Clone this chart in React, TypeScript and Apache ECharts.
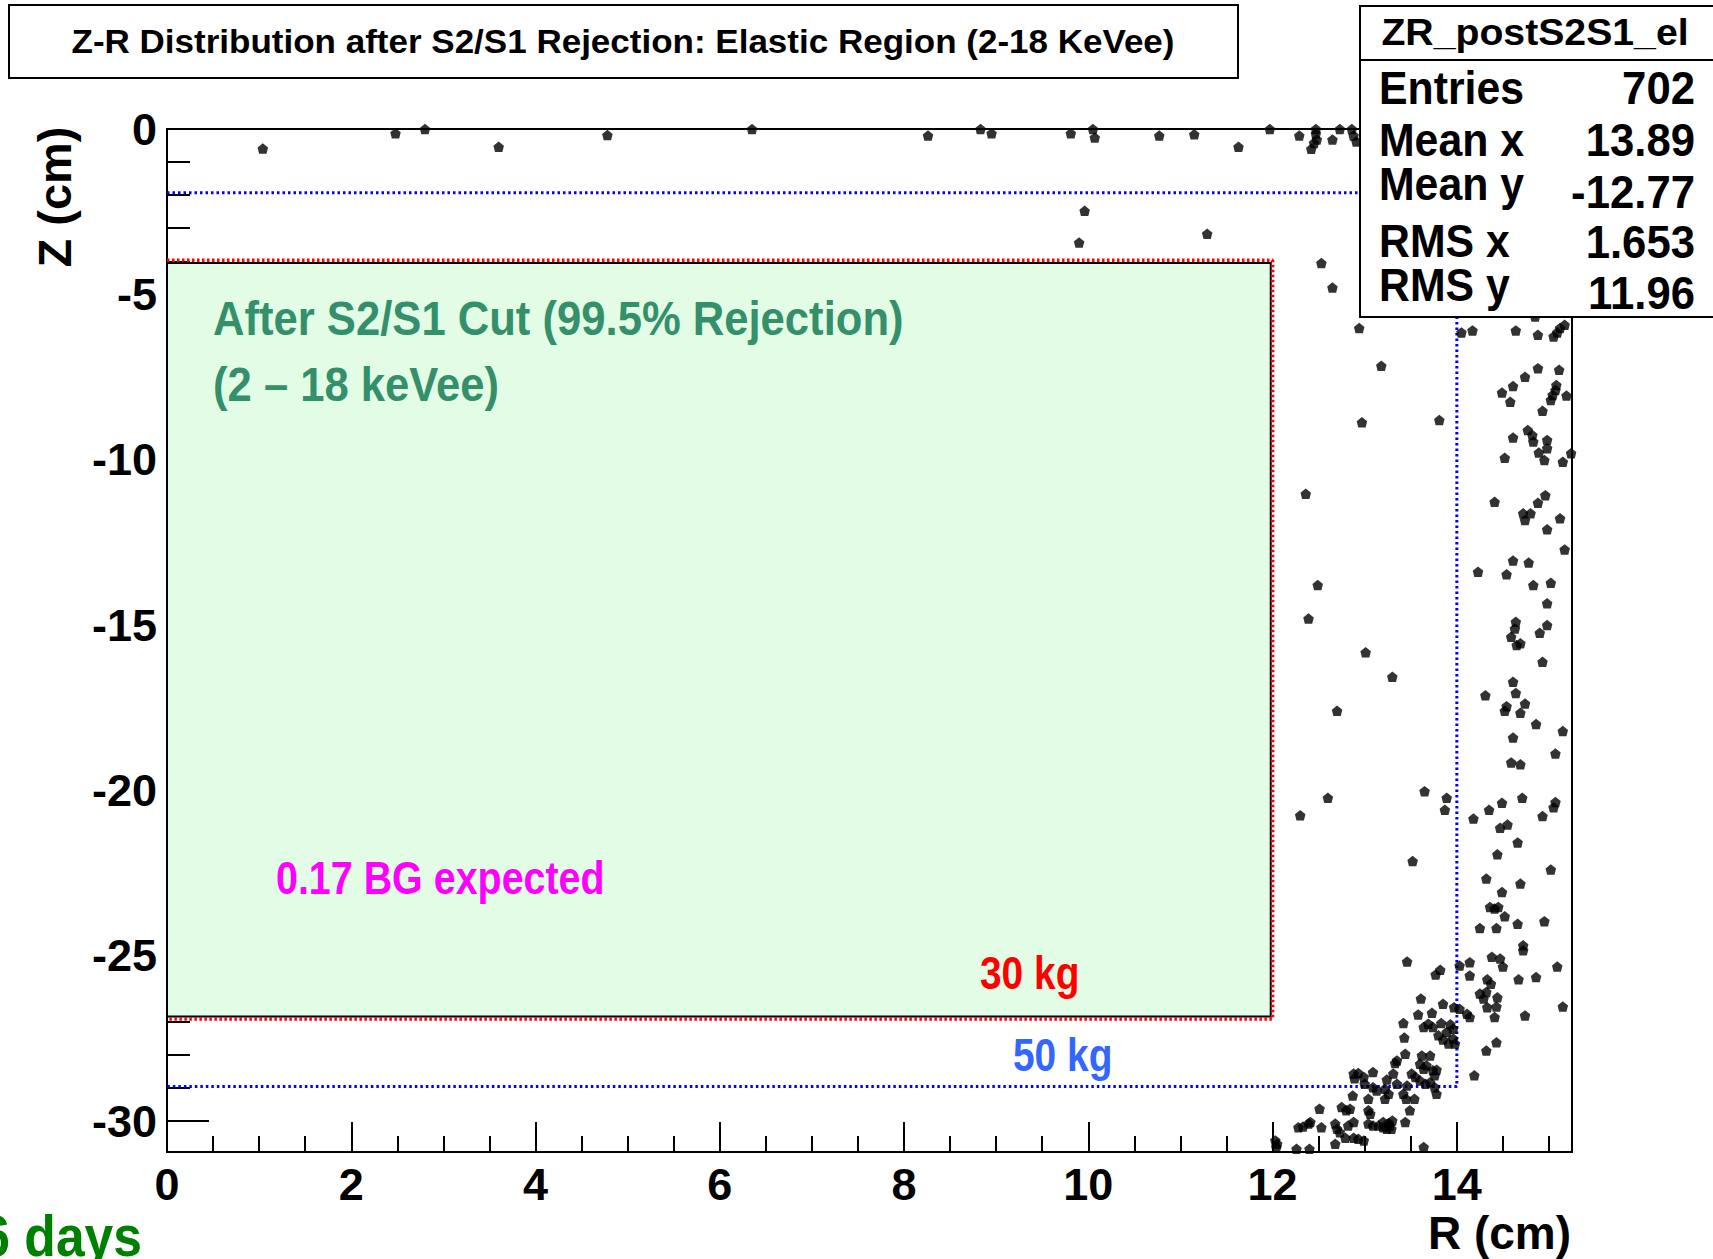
import { useEffect, useRef } from "react";
import * as echarts from "echarts";

// ---------- data ----------
const R_RANGE = [0, 15.25];
const Z_RANGE = [-30.93, 0];

const xMajorTicks = [0, 2, 4, 6, 8, 10, 12, 14];
const xMinorTicks = [0.5, 1, 1.5, 2.5, 3, 3.5, 4.5, 5, 5.5, 6.5, 7, 7.5, 8.5, 9, 9.5, 10.5, 11, 11.5, 12.5, 13, 13.5, 14.5, 15];
const yMajorTicks = [0, -5, -10, -15, -20, -25, -30];
const yMinorTicks = [-1, -2, -3, -4, -6, -7, -8, -9, -11, -12, -13, -14, -16, -17, -18, -19, -21, -22, -23, -24, -26, -27, -28, -29];

// fiducial volumes [rMax, zTop, zBottom]
const cut30kg = [12.0, -3.97, -26.91];
const cut50kg = [14.0, -1.93, -28.95];
const greenRegion = [0, -4.05, 11.98, -26.83];

// events near the top (gas/liquid surface)
const topEvents = [
  [1.04, -0.59], [2.48, -0.13], [2.8, 0], [3.6, -0.54], [4.78, -0.18], [6.35, 0], [8.26, -0.2], [8.83, 0],
  [8.95, -0.13], [9.81, -0.13], [10.05, 0], [10.07, -0.26], [10.77, -0.2], [11.15, -0.16], [11.63, -0.54],
  [11.97, 0], [12.29, -0.2], [12.47, 0], [12.47, -0.14], [12.48, -0.32], [12.45, -0.42], [12.42, -0.6],
  [12.65, -0.32], [12.73, 0], [12.86, 0], [12.88, -0.2], [12.91, -0.38], [9.96, -2.47], [9.9, -3.43], [11.29, -3.17],
];

// events along the side wall
const wallEvents = [
  [12.53, -4.05], [12.65, -4.79], [12.94, -6.02], [13.18, -7.16], [12.97, -8.87], [12.36, -11.03],
  [14.85, -5.67], [14.05, -6.15], [14.17, -6.09], [14.64, -6.09], [14.88, -6.22], [15.05, -6.27], [15.09, -6.15],
  [15.12, -6.02], [15.17, -5.92], [14.88, -7.23], [15.11, -7.28], [14.74, -7.49], [14.61, -7.77], [14.49, -7.97],
  [14.58, -8.25], [15.08, -7.74], [15.07, -7.89], [15.04, -8.04], [15.02, -8.19], [15.19, -8.06], [14.93, -8.52],
  [13.81, -8.8], [14.77, -9.1], [14.82, -9.25], [14.83, -9.45], [14.61, -9.33], [14.98, -9.4], [14.98, -9.65],
  [14.89, -9.78], [14.95, -10.01], [14.52, -9.94], [15.15, -10.06], [15.24, -9.8], [14.41, -11.27], [14.88, -11.3],
  [14.96, -11.07], [14.72, -11.62], [14.8, -11.62], [14.74, -11.82], [15.12, -11.77], [14.98, -12.1], [15.17, -12.71],
  [14.61, -13.05], [14.78, -13.11], [14.23, -13.39], [14.54, -13.46], [14.83, -13.79], [15.02, -13.72], [12.49, -13.79],
  [14.98, -14.34], [12.39, -14.8], [14.64, -14.9], [14.63, -15.1], [14.59, -15.35], [14.65, -15.6], [14.69, -15.55],
  [14.98, -15.0], [14.9, -15.23], [14.93, -16.11], [13.01, -15.82], [13.3, -16.56], [14.61, -16.71], [14.64, -17.05],
  [14.31, -17.12], [14.74, -17.37], [14.54, -17.45], [14.52, -17.59], [14.69, -17.65], [12.7, -17.59], [14.86, -17.99],
  [15.15, -18.2], [14.61, -18.4], [15.07, -18.88], [14.59, -19.15], [14.69, -19.21], [13.65, -20.02], [12.6, -20.22],
  [12.3, -20.75], [13.89, -20.22], [13.87, -20.58], [14.18, -20.85], [14.35, -20.58], [14.49, -20.37], [14.71, -20.22],
  [15.07, -20.35], [15.05, -20.51], [14.93, -20.77], [14.47, -21.13], [14.55, -21.03], [14.66, -21.57], [14.44, -21.93],
  [13.52, -22.13], [15.02, -22.39], [14.32, -22.66], [14.69, -22.81], [14.49, -23.07],
];

// events near the bottom (cathode)
const bottomEvents = [
  [14.36, -23.52], [14.45, -23.52], [14.41, -23.57], [14.52, -23.8], [14.25, -24.16], [14.43, -24.16], [14.66, -24.03],
  [14.95, -23.95], [14.72, -24.68], [14.72, -24.83], [13.46, -25.17], [14.03, -25.29], [14.14, -25.19], [14.38, -25.03],
  [14.47, -25.08], [14.5, -25.32], [15.09, -25.32], [13.82, -25.42], [13.77, -25.56], [14.14, -25.59], [14.67, -25.71],
  [14.86, -25.64], [14.33, -25.71], [14.37, -25.84], [14.25, -26.14], [14.32, -26.09], [14.29, -26.29], [14.44, -26.25],
  [14.33, -26.55], [14.43, -26.53], [13.61, -26.29], [13.85, -26.45], [13.97, -26.55], [15.15, -26.53], [14.74, -26.8],
  [13.58, -26.77], [13.73, -26.72], [14.03, -26.6], [14.11, -26.75], [14.14, -26.85], [14.41, -26.85], [13.42, -27.03],
  [13.64, -27.15], [13.69, -27.05], [13.74, -27.15], [13.83, -27.03], [13.93, -27.07], [13.96, -27.2], [13.89, -27.3],
  [13.96, -27.5], [13.8, -27.4], [13.85, -27.53], [13.91, -27.65], [13.98, -27.65], [13.43, -27.47], [14.43, -27.61],
  [14.32, -27.86], [13.44, -27.96], [13.35, -28.16], [13.33, -28.24], [13.62, -28.01], [13.71, -28.01], [13.6, -28.26],
  [13.64, -28.41], [13.67, -28.31], [13.74, -28.46], [13.78, -28.44], [13.76, -28.61], [14.19, -28.61], [13.51, -28.56],
  [13.55, -28.66], [13.6, -28.77], [13.66, -28.87], [13.71, -28.82], [13.76, -28.97], [12.88, -28.56], [12.93, -28.54],
  [12.99, -28.66], [13.09, -28.51], [12.89, -28.7], [13.24, -28.74], [13.31, -28.56], [13.0, -28.87], [13.09, -28.97],
  [13.13, -29.07], [13.22, -29.02], [13.35, -28.87], [13.46, -28.92], [13.78, -29.17], [12.87, -29.22], [13.04, -29.32],
  [13.22, -29.32], [13.26, -29.17], [13.42, -29.17], [13.45, -29.32], [13.54, -29.32], [12.51, -29.62], [12.75, -29.57],
  [12.8, -29.67], [12.84, -29.62], [13.04, -29.67], [13.06, -29.77], [13.49, -29.67], [12.28, -30.18], [12.33, -30.16],
  [12.39, -30.07], [12.41, -30.02], [12.53, -30.18], [12.68, -30.07], [12.7, -30.23], [12.73, -30.33], [12.82, -30.13],
  [12.88, -30.02], [13.04, -30.07], [13.09, -30.13], [13.15, -30.13], [13.2, -30.18], [13.24, -30.23], [13.27, -30.13],
  [13.29, -30.23], [13.2, -30.02], [13.26, -30.05], [13.3, -29.98], [13.44, -30.02], [12.68, -30.68], [12.79, -30.5],
  [12.88, -30.5], [12.93, -30.53], [12.99, -30.58], [12.26, -30.83], [12.4, -30.83], [12.03, -30.58], [12.04, -30.78],
  [12.05, -30.68], [13.64, -30.78],
];

const statsTitle = "ZR_postS2S1_el";
const statsLabels = ["Entries", "Mean x", "Mean y", "RMS x", "RMS y"];
const statsValues = ["702", "13.89", "-12.77", "1.653", "11.96"];

// ---------- helpers ----------
const FONT = '"Liberation Sans", Arial, Helvetica, sans-serif';

function txt(text: string, x: number, y: number, size: number, opts: any = {}) {
  return {
    type: "text",
    x,
    y,
    scaleX: opts.scaleX ?? 1,
    rotation: opts.rotation ?? 0,
    z: 100,
    style: {
      text,
      fontSize: size,
      fontWeight: "bold",
      fontFamily: FONT,
      fill: opts.color ?? "#000",
      align: opts.align ?? "left",
      verticalAlign: "middle",
    },
  };
}

function boxPath(c: number[]) {
  return [
    [0, c[1]],
    [c[0], c[1]],
    [c[0], c[2]],
    [0, c[2]],
  ];
}

const GRID = { left: 167, top: 129, width: 1405, height: 1023 };

export default function App() {
  const ref = useRef<HTMLDivElement>(null);

  useEffect(() => {
    if (!ref.current) return;
    const chart = echarts.init(ref.current, null, { renderer: "svg" });

    const tickStyle = { color: "#000", width: 2 };
    const labelStyle = {
      fontSize: 45,
      fontWeight: "bold",
      fontFamily: FONT,
      color: "#000",
    };

    const statsGraphics: any[] = [];
    const statsY = [
      [88, 88],
      [140, 140],
      [184, 192],
      [241, 242],
      [284.6, 293.3],
    ];
    statsLabels.forEach((l, i) => {
      statsGraphics.push(txt(l, 1379, statsY[i][0], 47, { scaleX: 0.91 }));
      statsGraphics.push(txt(statsValues[i], 1695, statsY[i][1], 47, { scaleX: 0.93, align: "right" }));
    });

    chart.setOption({
      animation: false,
      backgroundColor: "#fff",
      grid: [
        { ...GRID, show: true, borderColor: "#000", borderWidth: 2, backgroundColor: "transparent" },
        { ...GRID, show: false },
      ],
      xAxis: [
        {
          type: "value",
          gridIndex: 0,
          min: R_RANGE[0],
          max: R_RANGE[1],
          position: "bottom",
          splitLine: { show: false },
          axisLine: { show: true, onZero: false, lineStyle: tickStyle },
          axisTick: { show: true, inside: true, length: 30, lineStyle: tickStyle, customValues: xMajorTicks },
          axisLabel: { ...labelStyle, customValues: xMajorTicks, margin: 10 },
        },
        {
          type: "value",
          gridIndex: 1,
          min: R_RANGE[0],
          max: R_RANGE[1],
          position: "bottom",
          splitLine: { show: false },
          axisLine: { show: false, onZero: false },
          axisTick: { show: true, inside: true, length: 16, lineStyle: tickStyle, customValues: xMinorTicks },
          axisLabel: { show: false },
        },
      ],
      yAxis: [
        {
          type: "value",
          gridIndex: 0,
          min: Z_RANGE[0],
          max: Z_RANGE[1],
          position: "left",
          splitLine: { show: false },
          axisLine: { show: true, onZero: false, lineStyle: tickStyle },
          axisTick: { show: true, inside: true, length: 42, lineStyle: tickStyle, customValues: yMajorTicks },
          axisLabel: { ...labelStyle, customValues: yMajorTicks, margin: 10, padding: [16, 0, 0, 0] },
        },
        {
          type: "value",
          gridIndex: 1,
          min: Z_RANGE[0],
          max: Z_RANGE[1],
          position: "left",
          splitLine: { show: false },
          axisLine: { show: false, onZero: false },
          axisTick: { show: true, inside: true, length: 23, lineStyle: tickStyle, customValues: yMinorTicks },
          axisLabel: { show: false },
        },
      ],
      series: [
        {
          type: "custom",
          xAxisIndex: 0,
          yAxisIndex: 0,
          z: 1,
          encode: { x: [0, 2], y: [1, 3] },
          data: [greenRegion],
          renderItem: (params: any, api: any) => {
            const p1 = api.coord([api.value(0), api.value(1)]);
            const p2 = api.coord([api.value(2), api.value(3)]);
            return {
              type: "rect",
              shape: { x: p1[0], y: p1[1], width: p2[0] - p1[0], height: p2[1] - p1[1] },
              style: { fill: "#e2fce6", stroke: "#000", lineWidth: 2 },
            };
          },
        },
        {
          type: "line",
          xAxisIndex: 0,
          yAxisIndex: 0,
          z: 3,
          symbol: "none",
          data: boxPath(cut30kg),
          lineStyle: { color: "#ff0000", width: 3.5, type: [2.5, 2.5] },
        },
        {
          type: "line",
          xAxisIndex: 0,
          yAxisIndex: 0,
          z: 3,
          symbol: "none",
          data: boxPath(cut50kg),
          lineStyle: { color: "#0000ff", width: 3, type: [2.5, 3] },
        },
        ...[topEvents, wallEvents, bottomEvents].map((d) => ({
          type: "scatter",
          xAxisIndex: 0,
          yAxisIndex: 0,
          z: 5,
          symbol: "path://M5,0 L10,4 L8.5,10 L1.5,10 L0,4 Z",
          symbolSize: 10.5,
          itemStyle: { color: "#000" },
          data: d,
        })),
      ],
      graphic: [
        { type: "rect", z: 90, shape: { x: 9, y: 5, width: 1229, height: 73 }, style: { fill: "#fff", stroke: "#000", lineWidth: 2 } },
        txt("Z-R Distribution after S2/S1 Rejection: Elastic Region (2-18 KeVee)", 623, 41, 34, { align: "center", scaleX: 1.03 }),
        { type: "rect", z: 90, shape: { x: 1360, y: 6, width: 380, height: 311 }, style: { fill: "#fff", stroke: "#000", lineWidth: 2 } },
        { type: "line", z: 91, shape: { x1: 1360, y1: 60, x2: 1713, y2: 60 }, style: { stroke: "#000", lineWidth: 2 } },
        txt(statsTitle, 1535, 32, 37, { align: "center", scaleX: 1.06 }),
        ...statsGraphics,
        txt("Z (cm)", 54, 197, 47, { align: "center", rotation: Math.PI / 2 }),
        txt("R (cm)", 1571, 1233, 46, { align: "right" }),
        txt("After S2/S1 Cut (99.5% Rejection)", 213, 318, 49, { color: "#33906a", scaleX: 0.89 }),
        txt("(2 \u2013 18 keVee)", 213, 384, 49, { color: "#33906a", scaleX: 0.89 }),
        txt("0.17 BG expected", 276, 878, 46, { color: "#ff00ff", scaleX: 0.857 }),
        txt("30 kg", 980, 973, 46, { color: "#ff0000", scaleX: 0.845 }),
        txt("50 kg", 1013, 1055, 46, { color: "#3366ff", scaleX: 0.845 }),
        txt("6 days", 142, 1236, 58, { color: "#008000", align: "right", scaleX: 0.89 }),
      ],
    });

    return () => chart.dispose();
  }, []);

  return <div ref={ref} style={{ position: "absolute", left: 0, top: 0, width: 1713, height: 1259 }} />;
}
